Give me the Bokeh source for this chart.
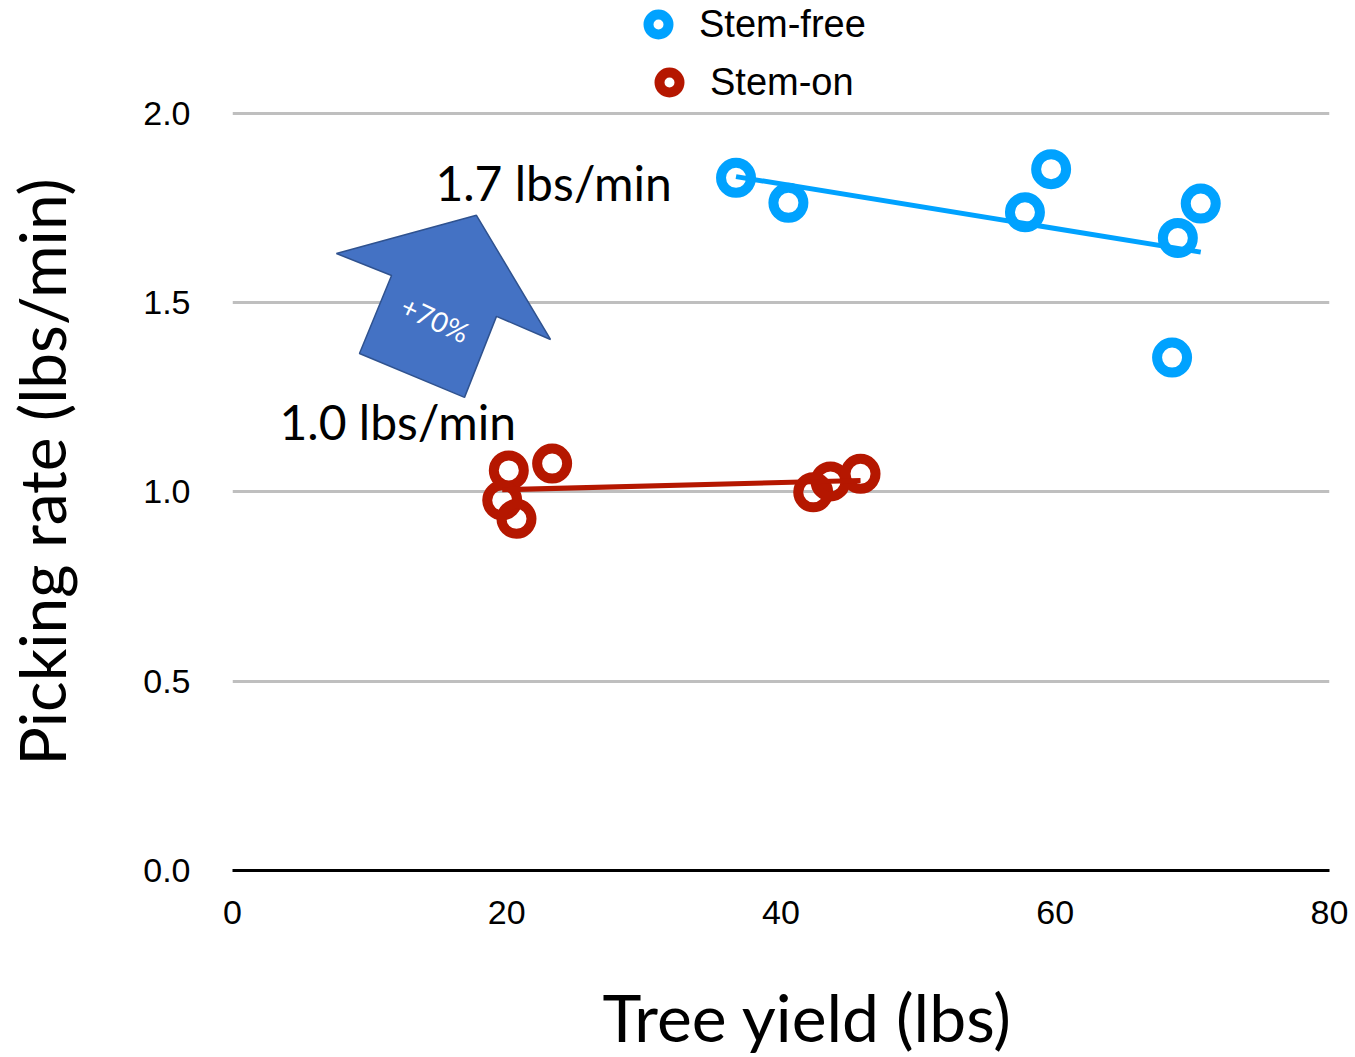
import numpy as np
from bokeh.plotting import figure
from bokeh.models import Legend, LegendItem, Label, FixedTicker, Range1d, ColumnDataSource, Title
from bokeh.embed import file_html
from bokeh.resources import INLINE

# ---- data ----
stem_free_yield = [36.72, 40.54, 57.79, 59.70, 68.94, 70.61, 68.52]
stem_free_rate = [1.830, 1.764, 1.739, 1.853, 1.671, 1.762, 1.355]
stem_on_yield = [20.15, 23.31, 19.67, 20.71, 42.35, 43.61, 45.80]
stem_on_rate = [1.057, 1.075, 0.978, 0.929, 0.999, 1.028, 1.048]

x_ticks = [0, 20, 40, 60, 80]
x_tick_labels = ["0", "20", "40", "60", "80"]
y_ticks = [0.0, 0.5, 1.0, 1.5, 2.0]
y_tick_labels = ["0.0", "0.5", "1.0", "1.5", "2.0"]

series_names = ["Stem-free", "Stem-on"]
x_title = "Tree yield (lbs)"
y_title = "Picking rate (lbs/min)"
annot_high = "1.7 lbs/min"
annot_low = "1.0 lbs/min"
annot_arrow = "+70%"

# arrow annotation outline (data coordinates)
arrow_x = [17.79, 23.19, 19.25, 16.92, 9.26, 11.60, 7.58]
arrow_y = [1.731, 1.403, 1.464, 1.250, 1.366, 1.572, 1.630]

BLUE = "#00A2FF"
RED = "#B51700"
TEXT_FONT = "Lato"
TICK_FONT = "Liberation Sans"

# the frame reaches the top of the canvas so that the legend can sit above the 2.0 line
p = figure(width=1350, height=1057,
           x_range=Range1d(0, 80), y_range=Range1d(0, 2.2985),
           output_backend="svg", toolbar_location=None,
           min_border_left=232, min_border_right=21,
           min_border_top=0, min_border_bottom=187)
p.outline_line_color = None
p.background_fill_color = "white"
p.border_fill_color = "white"

# axes
p.xaxis.ticker = FixedTicker(ticks=x_ticks)
p.xaxis.major_label_overrides = {t: l for t, l in zip(x_ticks, x_tick_labels)}
p.yaxis.ticker = FixedTicker(ticks=y_ticks)
p.yaxis.major_label_overrides = {t: l for t, l in zip(y_ticks, y_tick_labels)}
for ax in (p.xaxis[0], p.yaxis[0]):
    ax.major_tick_line_color = None
    ax.minor_tick_line_color = None
    ax.major_label_text_font = TICK_FONT
    ax.major_label_text_font_size = "34px"
    ax.major_label_text_color = "black"
    # blank, tiny axis label: only reserves the gap before the title
    ax.axis_label = " "
    ax.axis_label_text_font_size = "1px"
p.xaxis.axis_line_color = "black"
p.xaxis.axis_line_width = 3
p.xaxis.major_label_standoff = 24
p.xaxis.axis_label_standoff = 46
p.yaxis.axis_line_color = None
p.yaxis.major_label_standoff = 36
p.yaxis.axis_label_standoff = 57

p.xgrid.visible = False
p.ygrid.grid_line_color = "#BFBFBF"
p.ygrid.grid_line_width = 3

# axis titles
p.add_layout(Title(text=x_title, align="left", offset=370, standoff=0, vertical_align="top",
                   text_font=TEXT_FONT, text_font_size="66px",
                   text_font_style="normal", text_color="black"), "below")
p.add_layout(Title(text=y_title, align="left", offset=105, standoff=0, vertical_align="bottom",
                   text_font=TEXT_FONT, text_font_size="64px",
                   text_font_style="normal", text_color="black"), "left")

# arrow annotation
p.patch(arrow_x, arrow_y, fill_color="#4472C4", line_color="#2F528F", line_width=1.5)
p.add_layout(Label(x=14.80, y=1.457, text=annot_arrow, angle=-0.44,
                   text_align="center", text_baseline="middle",
                   text_font=TEXT_FONT, text_font_size="28px", text_color="white"))

# scatter
src_free = ColumnDataSource(dict(x=stem_free_yield, y=stem_free_rate))
src_on = ColumnDataSource(dict(x=stem_on_yield, y=stem_on_rate))
r_free = p.scatter("x", "y", source=src_free, marker="circle", size=30,
                   line_width=10, line_color=BLUE, fill_color=None)
r_on = p.scatter("x", "y", source=src_on, marker="circle", size=30,
                 line_width=10, line_color=RED, fill_color=None)

# linear trend lines (least squares from the data)
for xs, ys, col in ((stem_free_yield, stem_free_rate, BLUE),
                    (stem_on_yield, stem_on_rate, RED)):
    k, b = np.polyfit(xs, ys, 1)
    tx = [min(xs), max(xs)]
    p.line(tx, [k * t + b for t in tx], line_color=col, line_width=5)

# text annotations
p.add_layout(Label(x=14.80, y=1.818, text=annot_high, text_baseline="alphabetic",
                   text_font=TEXT_FONT, text_font_size="48px", text_color="black"))
p.add_layout(Label(x=3.43, y=1.186, text=annot_low, text_baseline="alphabetic",
                   text_font=TEXT_FONT, text_font_size="48px", text_color="black"))

# legends (one row each, centred per row as in the reference)
for name, rend, loc in ((series_names[0], r_free, (401, 821)),
                        (series_names[1], r_on, (412, 763))):
    leg = Legend(items=[LegendItem(label=name, renderers=[rend])], location=loc,
                 glyph_width=50, glyph_height=50, padding=0, spacing=0, margin=0,
                 label_standoff=16, border_line_color=None, background_fill_alpha=0,
                 label_text_font=TICK_FONT, label_text_font_size="38px",
                 label_text_color="black")
    p.add_layout(leg)

open("out.html", "w").write(file_html(p, INLINE))
